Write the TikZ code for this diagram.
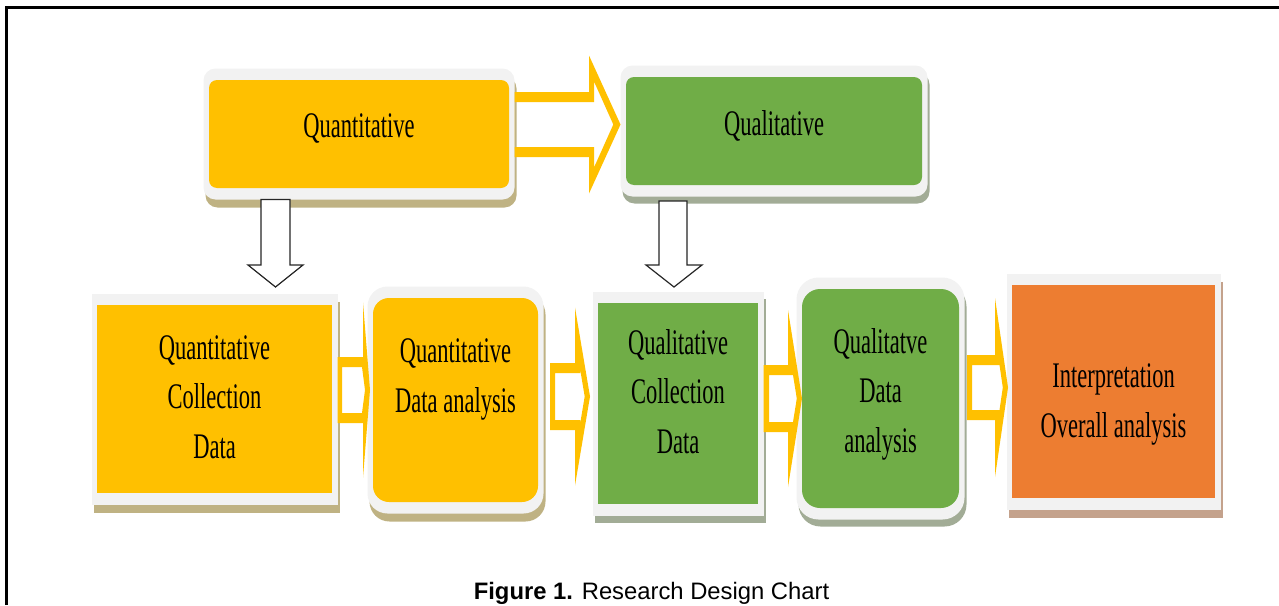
\documentclass[tikz,border=0pt]{standalone}
\usepackage{fontspec}
\setmainfont[FakeStretch=0.625]{Liberation Serif}
\newfontfamily\capfont{Liberation Sans}
\definecolor{myyellow}{RGB}{255,192,0}
\definecolor{mygreen}{RGB}{112,173,71}
\definecolor{myorange}{RGB}{237,125,49}
\definecolor{myrim}{RGB}{242,242,242}
\definecolor{yshade}{RGB}{191,178,131}
\definecolor{gshade}{RGB}{162,172,150}
\definecolor{oshade}{RGB}{196,162,140}
\usetikzlibrary{fit,shadows,backgrounds}

\begin{document}
\begin{tikzpicture}[x=1pt,y=-1pt,
    every node/.style={inner sep=0pt,outer sep=0pt,align=center,
      font=\fontsize{36}{49.5}\selectfont},
    lift/.style={text depth=0pt,text height=#1},
    rim/.style={fill=myrim,inner xsep=5.5pt,inner ysep=11.5pt},
    yrim/.style={rim,drop shadow={shadow xshift=2pt,shadow yshift=-8pt,fill=yshade,opacity=1}},
    grim/.style={rim,drop shadow={shadow xshift=2pt,shadow yshift=-7pt,fill=gshade,opacity=1}},
    orim/.style={rim,drop shadow={shadow xshift=2pt,shadow yshift=-8pt,fill=oshade,opacity=1}},
    fat/.style={fill=myyellow,even odd rule},
    down/.style={draw=black!85,fill=white,line width=1.2pt}
    ]

    \useasboundingbox (0,0) rectangle (1279,605);
    \draw[line width=2.5pt] (6.3,605) -- (6.3,7.5) -- (1279,7.5);

    % the boxes
    \node (quan) [fill=myyellow,minimum width=300pt,minimum height=108pt,rounded corners=8pt,lift=6pt] at (359,134) {Quantitative};
    \node (qual) [fill=mygreen,minimum width=296pt,minimum height=108pt,rounded corners=8pt,lift=8pt] at (774,131) {Qualitative};
    \node (qcoll) [fill=myyellow,minimum width=235pt,minimum height=188pt,lift=118pt] at (214.5,399) {Quantitative\\Collection\\Data};
    \node (qanal) [fill=myyellow,minimum width=165pt,minimum height=204pt,rounded corners=16pt,lift=24pt] at (455.5,400) {Quantitative\\Data analysis};
    \node (lcoll) [fill=mygreen,minimum width=160pt,minimum height=201pt,lift=99pt] at (678,403.5) {Qualitative\\Collection\\Data};
    \node (lanal) [fill=mygreen,minimum width=157pt,minimum height=219pt,rounded corners=18pt,lift=107pt] at (880.5,398.5) {Qualitatve\\Data\\analysis};
    \node (interp) [fill=myorange,minimum width=203pt,minimum height=213pt,lift=91pt] at (1113.5,391.5) {Interpretation\\Overall analysis};

    % the rims
    \begin{scope}[on background layer]
    \node (quanrim) [yrim,rounded corners=12pt,fit=(quan)] {};
    \node (qualrim) [grim,rounded corners=12pt,fit=(qual)] {};
    \node (qcollrim) [yrim,fit=(qcoll)] {};
    \node (qanalrim) [yrim,rounded corners=20pt,fit=(qanal)] {};
    \node (lcollrim) [grim,fit=(lcoll)] {};
    \node (lanalrim) [grim,rounded corners=22pt,fit=(lanal)] {};
    \node (interprim) [orim,fit=(interp)] {};
    \end{scope}

    % the block arrows
    \fill[fat] (quanrim.east |- 0,92) -- (589,92) -- (589,55.5) -- (qualrim.west |- 0,124.5) -- (589,193.5) -- (589,157) -- (quanrim.east |- 0,157) -- cycle
      (quanrim.east |- 0,102) -- (594,102) -- (594,81.5) -- (613.3,124.5) -- (594,167.5) -- (594,147) -- (quanrim.east |- 0,147) -- cycle;
    \fill[fat] (qcollrim.east |- 0,357) -- (363,357) -- (363,302.5) -- (370,390) -- (363,477.5) -- (363,423) -- (qcollrim.east |- 0,423) -- cycle
      (342,367) -- (362,367) -- (365,390) -- (362,413) -- (342,413) -- cycle;
    \fill[fat] (550,363) -- (575,363) -- (575,307.5) -- (590,396.5) -- (575,485.5) -- (575,430) -- (550,430) -- cycle
      (555,373) -- (580,373) -- (580,368.6) -- (584.7,396.5) -- (580,424.4) -- (580,420) -- (555,420) -- cycle;
    \fill[fat] (lcollrim.east |- 0,365) -- (788,365) -- (788,310) -- (802,398.5) -- (788,487) -- (788,432) -- (lcollrim.east |- 0,432) -- cycle
      (769,375) -- (793,375) -- (796.8,398.5) -- (793,422) -- (769,422) -- cycle;
    \fill[fat] (967,355) -- (995,355) -- (995,298) -- (1008,387.5) -- (995,477) -- (995,420) -- (967,420) -- cycle
      (972,365) -- (999.5,365) -- (1002.8,387.5) -- (999.5,410) -- (972,410) -- cycle;

    % the down arrows
    \draw[down] (quanrim.south -| 261,0) -- (261,265) -- (248,265) -- (275.5,287) -- (303,265) -- (290,265) -- (quanrim.south -| 290,0) -- cycle;
    \draw[down] (659,201) -- (659,265) -- (646,265) -- (674,287) -- (702,265) -- (687,265) -- (687,201) -- cycle;

    % the caption
    \node (cap) [font=\capfont\fontsize{23.8}{28}\selectfont,anchor=base] at (651.5,599.5) {\textbf{Figure 1.} Research Design Chart};
\end{tikzpicture}
\end{document}
